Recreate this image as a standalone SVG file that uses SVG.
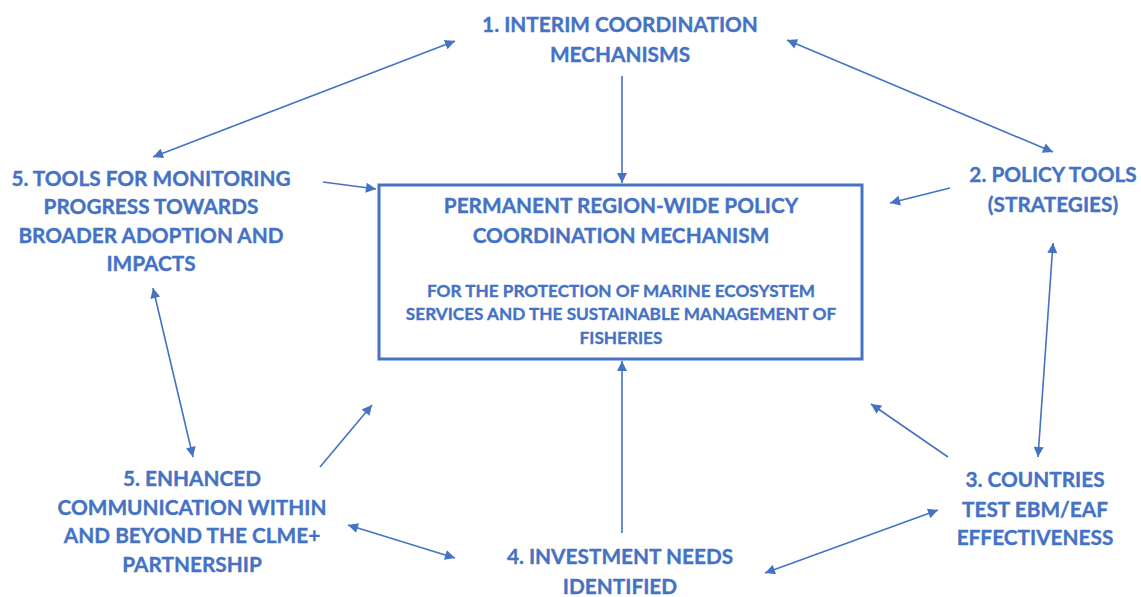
<svg xmlns="http://www.w3.org/2000/svg" width="1141" height="597" viewBox="0 0 1141 597">
  <style>
    .lbl { font-family: "Lato", "Liberation Sans", sans-serif; font-weight: 700; fill: #4472C4; stroke: #4472C4; stroke-width: 0.35; text-anchor: middle; }
    .big { font-size: 20.8px; }
    .small { font-size: 17.2px; }
    .conn { stroke: #4472C4; stroke-width: 1.6; fill: none; }
    .box { stroke: #4472C4; stroke-width: 3; fill: #ffffff; }
  </style>
  <defs>
    <marker id="head" viewBox="0 0 10 10" refX="10" refY="5" markerWidth="11" markerHeight="10" markerUnits="userSpaceOnUse" orient="auto-start-reverse">
      <path d="M0,0 L10,5 L0,10 z" fill="#4472C4"/>
    </marker>
  </defs>
  <rect width="1141" height="597" fill="#ffffff"/>

  <g id="connectors">
    <!-- two-way links between the outer nodes -->
    <line class="conn" x1="153" y1="157" x2="455" y2="41" marker-start="url(#head)" marker-end="url(#head)"/>
    <line class="conn" x1="787" y1="40" x2="1053" y2="152" marker-start="url(#head)" marker-end="url(#head)"/>
    <line class="conn" x1="1053" y1="243" x2="1038" y2="457" marker-start="url(#head)" marker-end="url(#head)"/>
    <line class="conn" x1="938" y1="510" x2="765" y2="573" marker-start="url(#head)" marker-end="url(#head)"/>
    <line class="conn" x1="348" y1="525" x2="455" y2="558" marker-start="url(#head)" marker-end="url(#head)"/>
    <line class="conn" x1="153" y1="288" x2="193" y2="457" marker-start="url(#head)" marker-end="url(#head)"/>
    <!-- links into the central mechanism -->
    <line class="conn" x1="622" y1="76" x2="622" y2="183" marker-end="url(#head)"/>
    <line class="conn" x1="323" y1="182" x2="376" y2="189" marker-end="url(#head)"/>
    <line class="conn" x1="950" y1="188" x2="890" y2="203" marker-end="url(#head)"/>
    <line class="conn" x1="948" y1="457" x2="871" y2="404" marker-end="url(#head)"/>
    <line class="conn" x1="622" y1="533" x2="622" y2="361" marker-end="url(#head)"/>
    <line class="conn" x1="320" y1="467" x2="372" y2="405" marker-end="url(#head)"/>
  </g>

  <g id="center">
    <rect class="box" x="379" y="185" width="483" height="174"/>
    <text class="lbl big" x="621" y="213">PERMANENT REGION-WIDE POLICY</text>
    <text class="lbl big" x="621" y="243">COORDINATION MECHANISM</text>
    <text class="lbl small" x="621" y="297">FOR THE PROTECTION OF MARINE ECOSYSTEM</text>
    <text class="lbl small" x="621" y="320">SERVICES AND THE SUSTAINABLE MANAGEMENT OF</text>
    <text class="lbl small" x="621" y="344">FISHERIES</text>
  </g>

  <g id="node1">
    <text class="lbl big" x="620" y="32">1. INTERIM COORDINATION</text>
    <text class="lbl big" x="620" y="62">MECHANISMS</text>
  </g>

  <g id="node2">
    <text class="lbl big" x="1053" y="182">2. POLICY TOOLS</text>
    <text class="lbl big" x="1053" y="212">(STRATEGIES)</text>
  </g>

  <g id="node3">
    <text class="lbl big" x="1035" y="487">3. COUNTRIES</text>
    <text class="lbl big" x="1035" y="517">TEST EBM/EAF</text>
    <text class="lbl big" x="1035" y="545">EFFECTIVENESS</text>
  </g>

  <g id="node4">
    <text class="lbl big" x="620" y="564">4. INVESTMENT NEEDS</text>
    <text class="lbl big" x="620" y="594">IDENTIFIED</text>
  </g>

  <g id="node5-communication">
    <text class="lbl big" x="192" y="486">5. ENHANCED</text>
    <text class="lbl big" x="192" y="515">COMMUNICATION WITHIN</text>
    <text class="lbl big" x="192" y="543">AND BEYOND THE CLME+</text>
    <text class="lbl big" x="192" y="572">PARTNERSHIP</text>
  </g>

  <g id="node5-monitoring">
    <text class="lbl big" x="151" y="186">5. TOOLS FOR MONITORING</text>
    <text class="lbl big" x="151" y="214">PROGRESS TOWARDS</text>
    <text class="lbl big" x="151" y="243">BROADER ADOPTION AND</text>
    <text class="lbl big" x="151" y="271">IMPACTS</text>
  </g>
</svg>
